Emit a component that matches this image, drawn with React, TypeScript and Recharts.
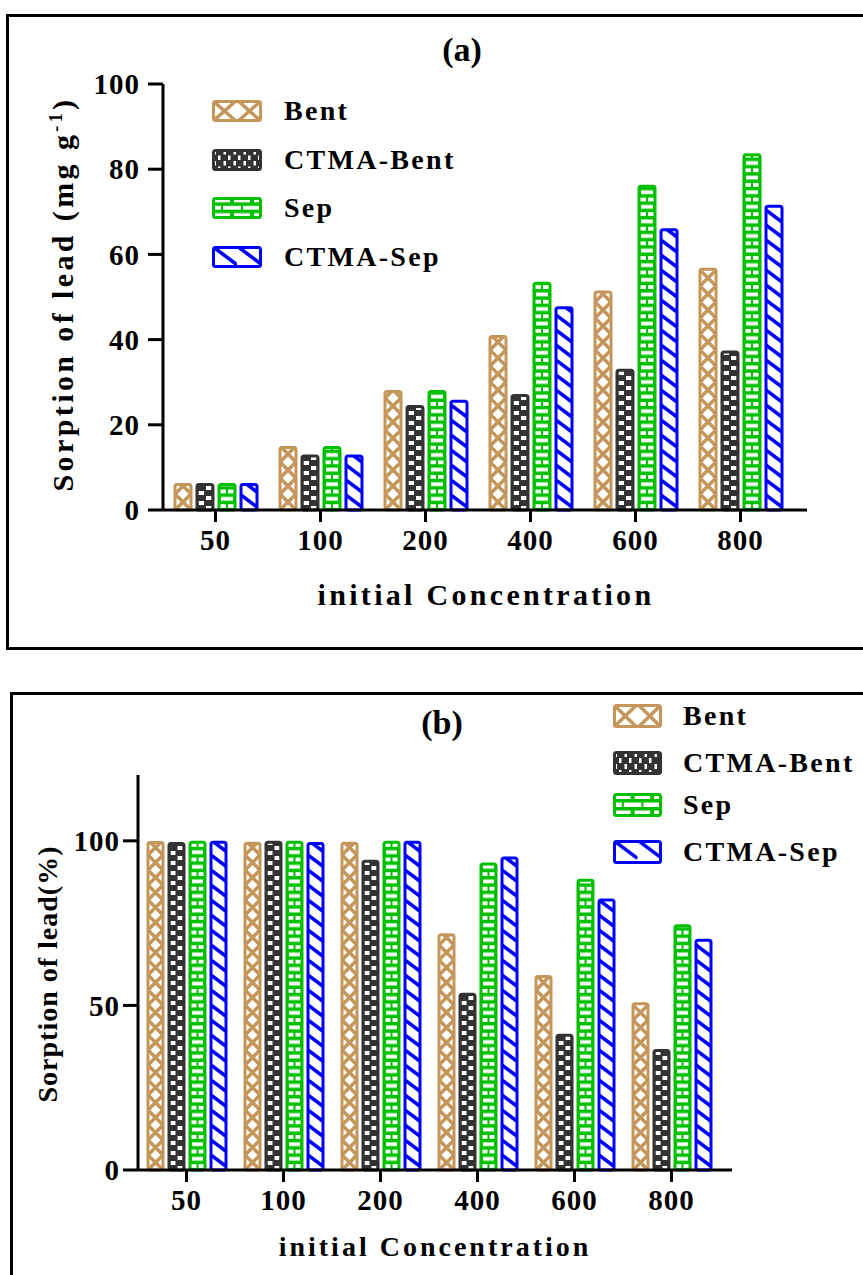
import React from "react";
import { Bar, BarChart, XAxis, YAxis } from "recharts";

const concentrations = ["50", "100", "200", "400", "600", "800"];

// panel (a): sorption in mg/g
const bentA = [6, 14.7, 27.8, 40.7, 51.2, 56.5];
const ctmaBentA = [6, 12.7, 24.3, 26.9, 32.8, 37.1];
const sepA = [6, 14.7, 27.8, 53.2, 76, 83.4];
const ctmaSepA = [6, 12.7, 25.5, 47.5, 65.8, 71.3];

// panel (b): sorption in %
const bentB = [99.5, 99.3, 99.3, 71.5, 58.8, 50.5];
const ctmaBentB = [99.2, 99.6, 93.8, 53.4, 40.9, 36.3];
const sepB = [99.6, 99.6, 99.6, 93, 88, 74.2];
const ctmaSepB = [99.6, 99.2, 99.6, 94.8, 82, 69.8];

const ticksA = [0, 20, 40, 60, 80, 100];
const ticksB = [0, 50, 100];

const TAN = "#C4965A";
const DARK = "#333333";
const GREEN = "#00C000";
const BLUE = "#0000FF";
const FONT = "'Liberation Serif', 'Times New Roman', serif";

const dataA = concentrations.map((c, i) => ({
    conc: c, bent: bentA[i], ctmaBent: ctmaBentA[i], sep: sepA[i], ctmaSep: ctmaSepA[i],
}));
const dataB = concentrations.map((c, i) => ({
    conc: c, bent: bentB[i], ctmaBent: ctmaBentB[i], sep: sepB[i], ctmaSep: ctmaSepB[i],
}));

type Kind = "bent" | "ctmaBent" | "sep" | "ctmaSep";

const series: { key: Kind; name: string; color: string }[] = [
    { key: "bent", name: "Bent", color: TAN },
    { key: "ctmaBent", name: "CTMA-Bent", color: DARK },
    { key: "sep", name: "Sep", color: GREEN },
    { key: "ctmaSep", name: "CTMA-Sep", color: BLUE },
];

function makePattern(kind: Kind, id: string, color: string, w: number, h: number, x: number, y: number) {
    let inner: React.ReactNode = null;
    if (kind === "bent") {
        inner = (
            <>
                <rect width={w} height={h} fill="#fff" />
                <path d={`M0,0L${w},${h}M${w},0L0,${h}`} stroke={color} strokeWidth={3.5} />
            </>
        );
    } else if (kind === "ctmaBent") {
        const sw = w / 2 - 2.5;
        inner = (
            <>
                <rect width={w} height={h} fill={color} />
                <rect x={1.5} y={1} width={sw} height={h / 2 - 1} fill="#fff" />
                <rect x={w / 2 + 1} y={h / 2 + 1} width={sw} height={h / 2 - 1} fill="#fff" />
            </>
        );
    } else if (kind === "sep") {
        const bh = h / 2 - 3.5;
        inner = (
            <>
                <rect width={w} height={h} fill={color} />
                <rect x={2} y={1.5} width={w - 4} height={bh} fill="#fff" />
                <rect x={0} y={h / 2 + 1.5} width={w / 2 - 1} height={bh} fill="#fff" />
                <rect x={w / 2 + 1} y={h / 2 + 1.5} width={w / 2 - 1} height={bh} fill="#fff" />
            </>
        );
    } else {
        const d = w * 0.75;
        inner = (
            <>
                <rect width={w} height={h} fill="#fff" />
                <path d={`M0,0L${w},${d}M0,${h}L${w},${h + d}M0,${-h}L${w},${d - h}`} stroke={color} strokeWidth={3.5} />
            </>
        );
    }
    return (
        <pattern id={id} patternUnits="userSpaceOnUse" x={x} y={y} width={w} height={h}>
            {inner}
        </pattern>
    );
}

function tileHeight(kind: Kind, w: number) {
    if (kind === "bent") return w;
    if (kind === "ctmaBent") return 10;
    if (kind === "sep") return 14.6;
    return 15;
}

function makeShape(kind: Kind, color: string, prefix: string) {
    return (props: any) => {
        const { x, y, width, height } = props;
        if (!height || height <= 0) return <g />;
        const id = `${prefix}-${Math.round(x)}`;
        return (
            <g>
                <defs>{makePattern(kind, id, color, width, tileHeight(kind, width), x, y + height)}</defs>
                <rect x={x} y={y} width={width} height={height} rx={2} fill={`url(#${id})`} stroke={color} strokeWidth={3} />
            </g>
        );
    };
}

function Swatch({ kind, color, id, w, h }: { kind: Kind; color: string; id: string; w: number; h: number }) {
    const tiles: Record<Kind, [number, number]> = {
        bent: [w / 2, h],
        ctmaBent: [10, h / 2],
        sep: [w / 2.5, h / 1.5],
        ctmaSep: [w / 2, h * 2],
    };
    const [tw, th] = tiles[kind];
    return (
        <svg width={w} height={h} style={{ display: "block" }}>
            <defs>{makePattern(kind, id, color, tw, th, 0, 0)}</defs>
            <rect x={1.5} y={1.5} width={w - 3} height={h - 3} rx={2} fill={`url(#${id})`} stroke={color} strokeWidth={3} />
        </svg>
    );
}

function LegendBlock({ left, textLeft, centers, w, h, prefix }: {
    left: number; textLeft: number; centers: number[]; w: number; h: number; prefix: string;
}) {
    return (
        <>
            {series.map((s, i) => (
                <React.Fragment key={s.key}>
                    <div style={{ position: "absolute", left, top: centers[i] - h / 2 }}>
                        <Swatch kind={s.key} color={s.color} id={`${prefix}-${s.key}`} w={w} h={h} />
                    </div>
                    <div style={{
                        position: "absolute", left: textLeft, top: centers[i], transform: "translateY(-50%)",
                        fontFamily: FONT, fontWeight: "bold", fontSize: 28, letterSpacing: 2.3, whiteSpace: "nowrap", lineHeight: 1,
                    }}>
                        {s.name}
                    </div>
                </React.Fragment>
            ))}
        </>
    );
}

const textStyle: React.CSSProperties = {
    position: "absolute", fontFamily: FONT, fontWeight: "bold", whiteSpace: "nowrap", lineHeight: 1, color: "#000",
};

const tickStyle = { fill: "#000", fontSize: 29, fontWeight: "bold", fontFamily: FONT, letterSpacing: 1 };
const axisLine = { stroke: "#000", strokeWidth: 3 };

export default function App() {
    return (
        <div style={{ position: "absolute", left: 0, top: 0, width: 863, height: 1275, overflow: "hidden", background: "#fff" }}>
            {/* panel borders */}
            <div style={{ position: "absolute", left: 6, top: 14, width: 880, height: 630, border: "3px solid #000" }} />
            <div style={{ position: "absolute", left: 10, top: 692, width: 880, height: 640, border: "3px solid #000" }} />

            {/* panel (a) */}
            <div style={{ position: "absolute", left: 0, top: 0 }}>
                <BarChart width={863} height={650} data={dataA} barSize={16} barGap={6}
                    margin={{ top: 84, right: 56, bottom: 100, left: 0 }}>
                    <XAxis dataKey="conc" height={40} padding={{ left: 0, right: 14 }} axisLine={axisLine}
                        tickLine={axisLine} tickSize={12} tickMargin={7} tick={tickStyle} interval={0} />
                    <YAxis width={163} domain={[0, 100]} ticks={ticksA} axisLine={axisLine} tickLine={axisLine}
                        tickSize={15} tickMargin={8} tick={tickStyle} interval={0} />
                    {series.map((s) => (
                        <Bar key={s.key} dataKey={s.key} name={s.name} isAnimationActive={false}
                            shape={makeShape(s.key, s.color, `a-${s.key}`)} />
                    ))}
                </BarChart>
            </div>
            <div style={{ ...textStyle, left: 462, top: 50, fontSize: 34, transform: "translate(-50%,-50%)" }}>(a)</div>
            <div style={{ ...textStyle, left: 486, top: 595, fontSize: 30, letterSpacing: 3.3, transform: "translate(-50%,-50%)" }}>
                initial Concentration
            </div>
            <div style={{ ...textStyle, left: 62, top: 294, fontSize: 30, letterSpacing: 3.4, transform: "translate(-50%,-50%) rotate(-90deg)" }}>
                Sorption of lead (mg g<sup style={{ fontSize: 18 }}>-1</sup>)
            </div>
            <LegendBlock left={212} textLeft={284} centers={[111, 160, 208, 257]} w={50} h={22} prefix="lga" />

            {/* panel (b) */}
            <div style={{ position: "absolute", left: 0, top: 660 }}>
                <BarChart width={863} height={615} data={dataB} barSize={15} barGap={6}
                    margin={{ top: 115, right: 131, bottom: 65, left: 0 }}>
                    <XAxis dataKey="conc" height={40} padding={{ left: 0, right: 12 }} axisLine={axisLine}
                        tickLine={axisLine} tickSize={12} tickMargin={7} tick={tickStyle} interval={0} />
                    <YAxis width={138} domain={[0, 120]} ticks={ticksB} axisLine={axisLine} tickLine={axisLine}
                        tickSize={15} tickMargin={3} tick={tickStyle} interval={0} />
                    {series.map((s) => (
                        <Bar key={s.key} dataKey={s.key} name={s.name} isAnimationActive={false}
                            shape={makeShape(s.key, s.color, `b-${s.key}`)} />
                    ))}
                </BarChart>
            </div>
            <div style={{ ...textStyle, left: 442, top: 723, fontSize: 34, transform: "translate(-50%,-50%)" }}>(b)</div>
            <div style={{ ...textStyle, left: 435, top: 1247, fontSize: 28, letterSpacing: 3, transform: "translate(-50%,-50%)" }}>
                initial Concentration
            </div>
            <div style={{ ...textStyle, left: 48, top: 974, fontSize: 28, letterSpacing: 1, transform: "translate(-50%,-50%) rotate(-90deg)" }}>
                Sorption of lead(%)
            </div>
            <LegendBlock left={613} textLeft={683} centers={[716, 763, 805, 852]} w={49} h={24} prefix="lgb" />
        </div>
    );
}
